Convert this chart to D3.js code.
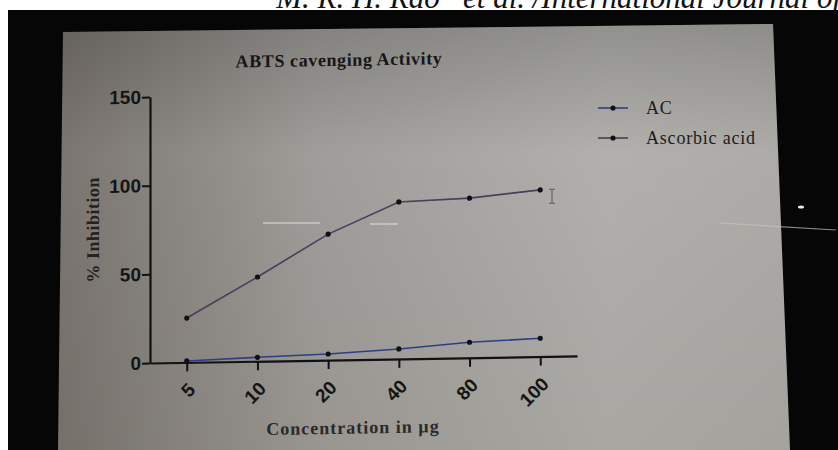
<!DOCTYPE html>
<html>
<head>
<meta charset="utf-8">
<title>ABTS scavenging</title>
<script src="https://cdnjs.cloudflare.com/ajax/libs/d3/7.8.5/d3.min.js"></script>
<style>
 body { margin: 0; background: #fff; }
 svg { display: block; }
</style>
</head>
<body>
<svg id="chart" width="838" height="450"></svg>
<script>
// data
var concentrations = ["5", "10", "20", "40", "80", "100"];
var acValues = [0.8, 2.2, 3.4, 5.6, 8.7, 10.3];
var ascorbicValues = [25, 47.5, 71, 88.5, 90, 94];
var yTicks = [0, 50, 100, 150];
var seriesNames = ["AC", "Ascorbic acid"];
var seriesColors = ["#2c3f86", "#4b3d5c"];

var svg = d3.select("#chart");

// page header, cut off at the top
svg.append("text")
  .attr("x", 841).attr("y", 8)
  .attr("text-anchor", "end")
  .style("font-family", "'Liberation Serif', serif")
  .style("font-style", "italic")
  .style("font-size", "31px")
  .style("fill", "#111")
  .text("M. R. H. Rao* et al. /International Journal of");

// photo: black bezel + grey screen
svg.append("rect").attr("x", 8).attr("y", 10).attr("width", 830).attr("height", 440).attr("fill", "#060606");

var defs = svg.append("defs");
var grad = defs.append("linearGradient").attr("id", "scr").attr("x1", "0").attr("x2", "1").attr("y1", "0").attr("y2", "0");
grad.append("stop").attr("offset", "0").attr("stop-color", "#7a7570");
grad.append("stop").attr("offset", "0.35").attr("stop-color", "#9f9d99");
grad.append("stop").attr("offset", "0.75").attr("stop-color", "#b1b0ac");
grad.append("stop").attr("offset", "1").attr("stop-color", "#acaba7");
var vgrad = defs.append("linearGradient").attr("id", "scrv").attr("x1", "0").attr("x2", "0").attr("y1", "0").attr("y2", "1");
vgrad.append("stop").attr("offset", "0").attr("stop-color", "#000").attr("stop-opacity", 0.18);
vgrad.append("stop").attr("offset", "0.3").attr("stop-color", "#000").attr("stop-opacity", 0);
vgrad.append("stop").attr("offset", "1").attr("stop-color", "#2a1a00").attr("stop-opacity", 0.06);

var screen = "M63,32 L773,24 L790,450 L58,450 Z";
svg.append("path").attr("d", screen).attr("fill", "url(#scr)");
svg.append("path").attr("d", screen).attr("fill", "url(#scrv)");

// reflections
svg.append("line").attr("x1", 263).attr("y1", 223).attr("x2", 320).attr("y2", 223)
  .attr("stroke", "#d8d6d0").attr("stroke-width", 1.5).attr("opacity", 0.8);
svg.append("line").attr("x1", 370).attr("y1", 224).attr("x2", 398).attr("y2", 224)
  .attr("stroke", "#d8d6d0").attr("stroke-width", 1.5).attr("opacity", 0.8);
svg.append("line").attr("x1", 720).attr("y1", 223).attr("x2", 836).attr("y2", 230)
  .attr("stroke", "#c9c5bb").attr("stroke-width", 1.2).attr("opacity", 0.7);
svg.append("ellipse").attr("cx", 801).attr("cy", 207).attr("rx", 3).attr("ry", 1.5).attr("fill", "#eee");

// chart, slightly skewed like the photo
var g = svg.append("g")
  .attr("transform", "translate(150,363) skewY(-0.95) translate(-150,-363)");

var x = d3.scalePoint().domain(concentrations).range([150, 577]).padding(0.52);
var y = d3.scaleLinear().domain([0, 150]).range([363, 97]);

var yAxis = g.append("g").attr("transform", "translate(150,0)")
  .call(d3.axisLeft(y).tickValues(yTicks).tickSize(8).tickPadding(1).tickSizeOuter(0));
yAxis.select(".domain").attr("stroke", "#111").attr("stroke-width", 2.2);
yAxis.selectAll(".tick line").attr("stroke", "#111").attr("stroke-width", 2);
yAxis.selectAll("text")
  .style("font-family", "'Liberation Sans', Arial, sans-serif")
  .style("font-weight", "bold").style("font-size", "19px").style("fill", "#151515");

var xAxis = g.append("g").attr("transform", "translate(0,363)")
  .call(d3.axisBottom(x).tickSize(9).tickSizeOuter(0).tickFormat(""));
xAxis.select(".domain").attr("stroke", "#111").attr("stroke-width", 2.2);
xAxis.selectAll(".tick line").attr("stroke", "#111").attr("stroke-width", 2);

g.selectAll(".xlab").data(concentrations).enter().append("text")
  .attr("class", "xlab")
  .attr("transform", function(d) { return "translate(" + (x(d) + 5) + ",387) rotate(-45)"; })
  .attr("text-anchor", "end")
  .attr("dy", "0.35em")
  .style("font-family", "'Liberation Sans', Arial, sans-serif")
  .style("font-weight", "bold").style("font-size", "19px").style("fill", "#151515")
  .text(function(d) { return d; });

// series
var series = [acValues, ascorbicValues];
var line = d3.line().x(function(d, i) { return x(concentrations[i]); }).y(function(d) { return y(d); });

series.forEach(function(vals, k) {
  g.append("path").datum(vals)
    .attr("fill", "none").attr("stroke", seriesColors[k]).attr("stroke-width", 1.6)
    .attr("d", line);
  g.selectAll(".dot" + k).data(vals).enter().append("circle")
    .attr("class", "dot" + k)
    .attr("cx", function(d, i) { return x(concentrations[i]); })
    .attr("cy", function(d) { return y(d); })
    .attr("r", 2.6).attr("fill", "#111");
});

// cursor I-beam
g.append("path").attr("d", "M549,196 h6 M552,196 v14 M549,210 h6")
  .attr("stroke", "#6d6b68").attr("stroke-width", 1.3).attr("fill", "none");

// titles
g.append("text").attr("x", 339).attr("y", 69).attr("text-anchor", "middle")
  .style("font-family", "'Liberation Serif', serif").style("font-weight", "bold")
  .style("font-size", "18px").style("letter-spacing", "0.6px").style("fill", "#161616")
  .text("ABTS cavenging Activity");

g.append("text").attr("x", 353).attr("y", 437).attr("text-anchor", "middle")
  .style("font-family", "'Liberation Serif', serif").style("font-weight", "bold")
  .style("font-size", "18px").style("letter-spacing", "1px").style("fill", "#2a2a2a")
  .text("Concentration in µg");

g.append("text").attr("transform", "translate(99,229) rotate(-90)").attr("text-anchor", "middle")
  .style("font-family", "'Liberation Serif', serif").style("font-weight", "bold")
  .style("font-size", "18px").style("letter-spacing", "0.5px").style("fill", "#222")
  .text("% Inhibition");

// legend
var leg = svg.append("g");
seriesNames.forEach(function(name, k) {
  var ly = 108 + k * 30;
  leg.append("line").attr("x1", 598).attr("x2", 628).attr("y1", ly).attr("y2", ly)
    .attr("stroke", seriesColors[k]).attr("stroke-width", 1.6);
  leg.append("circle").attr("cx", 613).attr("cy", ly).attr("r", 2.6).attr("fill", "#111");
  leg.append("text").attr("x", 646).attr("y", ly).attr("dy", "0.35em")
    .style("font-family", "'Liberation Serif', serif").style("font-size", "18px")
    .style("letter-spacing", "0.8px").style("fill", "#1c1c1c").text(name);
});
</script>
</body>
</html>
